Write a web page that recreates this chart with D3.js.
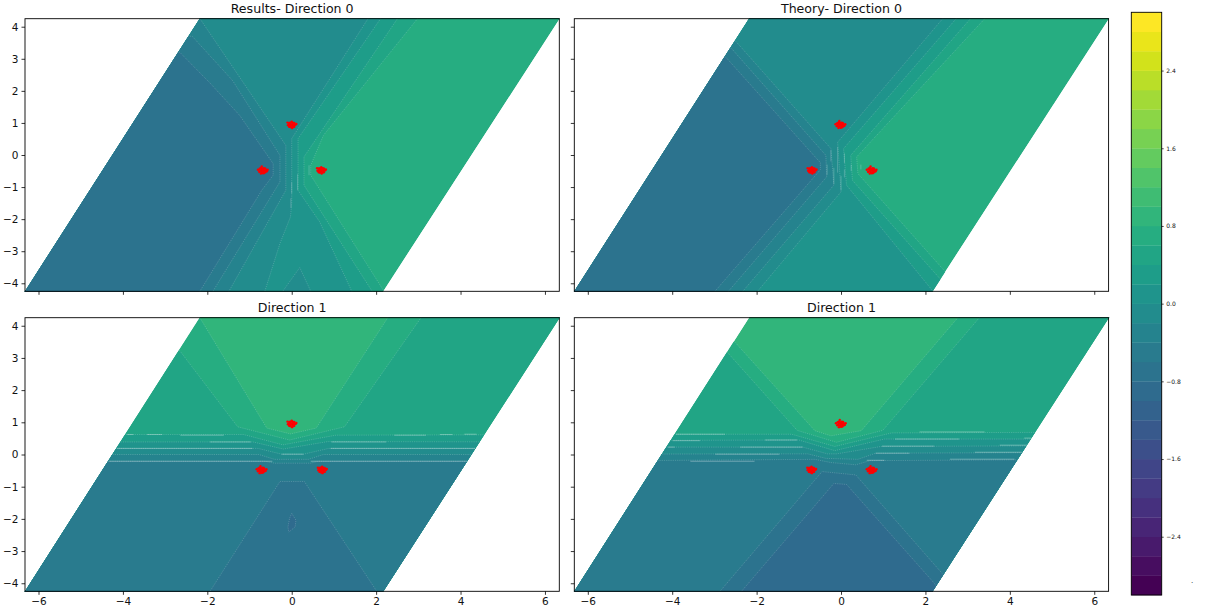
<!DOCTYPE html>
<html><head><meta charset="utf-8">
<style>html,body{margin:0;padding:0;background:#fff}svg{display:block}text{font-family:"DejaVu Sans",sans-serif;fill:#111}</style>
<script src="https://cdn.jsdelivr.net/npm/d3@7/dist/d3.min.js"></script></head><body>
<script>
// ---- data ----
const xTicks = [-6,-4,-2,0,2,4,6];
const yTicks = [-4,-3,-2,-1,0,1,2,3,4];
const colorbarTicks = [-2.4,-1.6,-0.8,0,0.8,1.6,2.4];
const bandEdges = d3.range(-3,3.0001,0.2);
const sheet = [[-6.33,-4.27],[2.16,-4.27],[6.36,4.27],[-2.17,4.27]];
const titles = ["Results- Direction 0","Theory- Direction 0","Direction 1","Direction 1"];

// contour lines: [band index of the area left of / under the line, line points]
const resultsDir0Lines = [
 [17,[[3.01,4.3],[0.75,0.61],[0.45,-0.32],[0.45,-0.63],[2.21,-4.3]]],
 [16,[[2.53,4.3],[0.29,-0.06],[0.29,-0.94],[1.93,-4.3]]],
 [15,[[2.13,4.3],[0.15,0.51],[0.15,-1.10],[0.66,-2.08],[1.44,-4.3]]],
 [14,[[1.83,4.3],[0,0.51],[0,-1.51],[-0.03,-1.93],[-0.28,-2.76],[-0.65,-4.3]]],
 [13,[[-2.2,4.3],[-0.14,0.30],[-0.14,-1.10],[-1.51,-4.3]]],
 [12,[[-2.35,3.69],[-1.40,2.32],[-0.28,-0.01],[-0.28,-0.84],[-1.89,-4.3]]],
 [11,[[-2.65,3.20],[-1.92,2.22],[-1.23,1.23],[-0.44,-0.27],[-0.44,-0.63],[-0.71,-1.10],[-2.20,-4.3]]]
];
const resultsDir0Islands = [[14,[[-0.24,-4.3],[0.19,-3.51],[0.47,-4.3]]]];
const theoryDir0Lines = [
 [17,[[3.44,4.3],[0.37,-0.06],[0.40,-0.58],[2.47,-3.64],[3.4,-5]]],
 [16,[[3.10,4.3],[0.23,-0.01],[0.27,-0.79],[2.36,-3.88],[3.1,-5]]],
 [15,[[2.76,4.3],[0.06,0.20],[0.13,-0.94],[2.21,-4.3]]],
 [14,[[2.44,4.3],[-0.08,0.40],[0,-1.15],[-2.01,-4.3]]],
 [13,[[-2.49,3.54],[-0.24,0.20],[-0.17,-0.94],[-2.36,-4.3]]],
 [12,[[-2.60,3.33],[-0.36,-0.01],[-0.34,-0.68],[-2.70,-4.3]]],
 [11,[[-2.73,3.05],[-0.49,-0.24],[-0.49,-0.46],[-3.02,-4.3]]]
];
const resultsDir1Lines = [
 [18,[[-2.2,4.3],[-0.59,0.82],[-0.03,0.64],[0.58,0.82],[2.30,4.3]]],
 [17,[[-2.65,3.22],[-1.28,0.86],[-0.05,0.45],[1.25,0.86],[3.09,4.3]]],
 [16,[[-7,0.62],[-1.14,0.62],[-0.21,0.30],[1.05,0.60],[7,0.62]]],
 [15,[[-7,0.39],[-0.92,0.39],[-0.20,0.17],[0.85,0.40],[7,0.39]]],
 [14,[[-7,0.19],[-0.80,0.19],[-0.24,0.01],[0.28,0.01],[0.88,0.19],[7,0.19]]],
 [13,[[-7,0],[-0.78,0],[-0.41,-0.15],[0.40,-0.15],[0.75,0],[7,0]]],
 [12,[[-7,-0.21],[-0.63,-0.21],[-0.41,-0.27],[0.45,-0.27],[0.62,-0.21],[7,-0.21]]]
];
const resultsDir1Islands = [
 [11,[[-1.96,-4.3],[-0.28,-0.84],[0.30,-0.84],[2.04,-4.3]]],
 [10,[[0,-1.83],[0.10,-2.04],[0.08,-2.25],[-0.07,-2.41],[-0.09,-2.25],[-0.05,-1.98]]]
];
const theoryDir1Lines = [
 [18,[[-2.52,3.5],[-0.62,0.74],[-0.24,0.58],[0.48,0.74],[2.80,4.3]]],
 [17,[[-2.69,3.17],[-1.04,0.75],[-0.11,0.38],[0.99,0.75],[3.31,4.3]]],
 [16,[[-7,0.63],[-1.17,0.63],[-0.15,0.25],[1.20,0.67],[7,0.70]]],
 [15,[[-7,0.43],[-1.0,0.45],[-0.15,0.12],[1.03,0.48],[7,0.48]]],
 [14,[[-7,0.23],[-0.91,0.23],[-0.32,0.02],[-0.10,0.02],[0.95,0.25],[7,0.28]]],
 [13,[[-7,0.01],[-0.79,0.02],[-0.36,-0.12],[0.40,-0.15],[0.82,0.04],[7,0.07]]],
 [12,[[-7,-0.21],[-0.62,-0.15],[-0.24,-0.25],[0.35,-0.32],[0.69,-0.19],[7,-0.146]]]
];
const theoryDir1Islands = [
 [11,[[-2.90,-4.3],[-0.45,-0.53],[0.35,-0.635],[2.42,-3.73],[3.3,-5],[-3.5,-5]]],
 [10,[[-2.39,-4.3],[-0.17,-0.90],[0.13,-0.93],[2.21,-4.0],[2.7,-5],[-3,-5]]]
];
// faint seams left along contour edges: [x0,y0,x1,y1]
const resultsDir0Seams = [[0.41,-0.32,0.41,-0.63],[0.14,-0.6,0.14,-1.1],[0,-0.85,0,-1.2],[-0.02,-1.35,-0.02,-1.65]];
const theoryDir0Seams = [[-0.33,-0.3,-0.33,-0.62],[-0.24,0.15,-0.24,-0.2],[-0.17,-0.4,-0.17,-0.9],[-0.08,0.25,-0.08,-0.55],[0,-0.65,0,-1.1],[0.08,0.05,0.08,-0.25],[0.08,-0.45,0.08,-0.7],[0.47,-0.3,0.47,-0.45],[0.24,-0.3,0.24,-0.5]];
const resultsDir1Seams = [[-3.9,0.62,-3.75,0.62],[-3.43,0.62,-3.07,0.62],[-2.64,0.60,-1.61,0.60],[2.43,0.60,3.18,0.60],[3.51,0.62,3.81,0.62],[4.09,0.63,4.38,0.63],
 [-1.94,0.39,-0.97,0.39],[0.94,0.39,2.24,0.39],[-4.14,0.19,-0.93,0.19],[0.92,0.19,4.35,0.19],[-4.33,-0.21,-0.46,-0.21],[0.45,-0.21,4.15,-0.21],[-0.24,0.01,0.28,0.01]];
const theoryDir1Seams = [[-3.91,0.63,-2.75,0.63],[1.86,0.70,3.40,0.70],[4.34,0.51,4.51,0.51],[-3.99,0.43,-3.34,0.43],[-1.80,0.45,-1.04,0.45],[1.28,0.48,2.80,0.48],
 [-4.10,0.23,-3.94,0.23],[-2.39,0.23,-0.91,0.23],[0.97,0.26,2.21,0.26],[3.76,0.29,4.41,0.29],[-2.98,0.01,-1.46,0.01],[0.82,0.04,1.62,0.04],[3.17,0.07,4.28,0.07],
 [-3.57,-0.21,-2.05,-0.21],[0.61,-0.18,1.03,-0.18],[2.58,-0.146,4.11,-0.146]];
// particle positions: cluster centres and spread read from the clouds
const clusterCentres = [[[0,0.94],[-0.69,-0.48],[0.70,-0.48]],[[-0.02,0.94],[-0.69,-0.48],[0.72,-0.48]],[[0,0.95],[-0.72,-0.48],[0.72,-0.48]],[[-0.01,0.95],[-0.70,-0.48],[0.72,-0.48]]];
const cloudA = [[0,0],[.03,.03],[-.03,.03],[.05,-.03],[-.05,-.04],[.06,.02],[-.06,.01],[.02,.07],[-.03,-.07],[.06,.06],[-.06,.06],[.06,-.06],[-.06,-.06],[.09,0],[-.09,-.01],[0,.1],[.01,-.1],[.02,-.04],[-.02,-.02],[.04,-.06],[-.03,.07],[.05,.05],[.11,.03],[-.1,.07]];
const cloudB = [[0,0],[.02,.04],[-.04,.02],[.04,-.04],[-.02,-.05],[.06,.03],[-.06,-.03],[.03,.07],[-.03,.08],[.07,-.05],[-.07,.05],[.08,.01],[-.08,-.04],[.01,-.09],[-.04,-.1],[.1,-.03],[-.11,.02],[-.02,.12],[.06,.06],[.04,-.08],[-.05,.06],[.12,.02],[0,.04],[.03,-.01]];

const panelBands = [
 {lines:resultsDir0Lines,islands:resultsDir0Islands,seams:resultsDir0Seams,base:18},
 {lines:theoryDir0Lines,islands:[],seams:theoryDir0Seams,base:18},
 {lines:resultsDir1Lines,islands:resultsDir1Islands,seams:resultsDir1Seams,base:19},
 {lines:theoryDir1Lines,islands:theoryDir1Islands,seams:theoryDir1Seams,base:19}
];

// ---- layout ----
const W=1215,H=615;
const boxes=[{x0:25,x1:559.3,y0:18.7,y1:291.3},{x0:574.3,x1:1108.6,y0:18.7,y1:291.3},
             {x0:25,x1:559.3,y0:317.7,y1:591.3},{x0:574.3,x1:1108.6,y0:317.7,y1:591.3}];
const svg=d3.select("body").append("svg").attr("width",W).attr("height",H).attr("viewBox",[0,0,W,H]);
const defs=svg.append("defs");
const bandColor=i=>d3.interpolateViridis(i/29);

function under(line){return [[-7,5],...line,[7,5],[7,-5],[-7,-5]];}
function leftOf(line){return [[-7,5],...line,[-7,-5]];}

boxes.forEach((b,k)=>{
  const x=d3.scaleLinear([-6.32,6.34],[b.x0,b.x1]);
  const y=d3.scaleLinear([-4.25,4.25],[b.y1,b.y0]);
  const path=d3.line().x(d=>x(d[0])).y(d=>y(d[1]));
  const g=svg.append("g");
  defs.append("clipPath").attr("id","c"+k).append("path").attr("d",path(sheet)+"Z");
  const cg=g.append("g").attr("clip-path",`url(#c${k})`);
  const P=panelBands[k];
  cg.append("path").attr("d",path(sheet)+"Z").attr("fill",bandColor(P.base));
  const ringOf=k<2?leftOf:under;
  const rings=P.lines.map(([i,l])=>[i,ringOf(l)]).concat(P.islands);
  rings.forEach(([i,r])=>{
    cg.append("path").attr("d",path(r)+"Z").attr("fill",bandColor(i))
      .attr("stroke","#fff").attr("stroke-opacity",.3).attr("stroke-width",.6).attr("stroke-dasharray","1.2 1");
  });
  cg.selectAll("line.seam").data(P.seams).join("line").attr("class","seam")
    .attr("x1",d=>x(d[0])).attr("y1",d=>y(d[1])).attr("x2",d=>x(d[2])).attr("y2",d=>y(d[3]))
    .attr("stroke","#fff").attr("stroke-opacity",k<2?.24:.36).attr("stroke-width",.9);
  clusterCentres[k].forEach((c,j)=>{
    const cloud=(k+j)%2?cloudB:cloudA;
    g.append("g").selectAll("circle").data(cloud).join("circle")
      .attr("cx",d=>x(c[0]+d[0])).attr("cy",d=>y(c[1]+d[1])).attr("r",1.2).attr("fill","#f00");
  });
  g.append("rect").attr("x",b.x0).attr("y",b.y0).attr("width",b.x1-b.x0).attr("height",b.y1-b.y0)
    .attr("fill","none").attr("stroke","#000").attr("stroke-width",.9);
  const ax=d3.axisBottom(x).tickValues(xTicks).tickSize(3.5).tickPadding(3);
  if(k<2) ax.tickFormat("");
  const ay=d3.axisLeft(y).tickValues(yTicks).tickSize(3.5).tickPadding(3);
  if(k%2) ay.tickFormat("");
  const gx=g.append("g").attr("transform",`translate(0,${b.y1})`).call(ax);
  const gy=g.append("g").attr("transform",`translate(${b.x0},0)`).call(ay);
  [gx,gy].forEach(a=>{a.select(".domain").remove();a.selectAll("text").attr("font-size",10.5).attr("font-family","DejaVu Sans");a.selectAll("line").attr("stroke-width",.8)});
  g.append("text").attr("x",(b.x0+b.x1)/2).attr("y",b.y0-6).attr("text-anchor","middle").attr("font-size",12.6).text(titles[k]);
});

// colour bar
const cbY=d3.scaleLinear([-3,3],[595,12.3]);
const cb=svg.append("g");
d3.pairs(bandEdges).forEach(([a,b],i)=>{
  cb.append("rect").attr("x",1131.3).attr("width",30.4).attr("y",cbY(b)).attr("height",cbY(a)-cbY(b)+.3).attr("fill",bandColor(i));
});
cb.append("rect").attr("x",1131.3).attr("y",12.3).attr("width",30.4).attr("height",582.7).attr("fill","none").attr("stroke","#000").attr("stroke-width",.9);
const ac=d3.axisRight(cbY).tickValues(colorbarTicks).tickSize(2).tickPadding(2.5).tickFormat(d3.format(".1f"));
const gc=svg.append("g").attr("transform","translate(1161.7,0)").call(ac);
gc.select(".domain").remove();
gc.selectAll("text").attr("font-size",6).attr("font-family","DejaVu Sans");
gc.selectAll("line").attr("stroke-width",.7);
svg.append("text").attr("x",1192).attr("y",583).attr("font-size",7).attr("text-anchor","middle").text(".");
</script></body></html>
